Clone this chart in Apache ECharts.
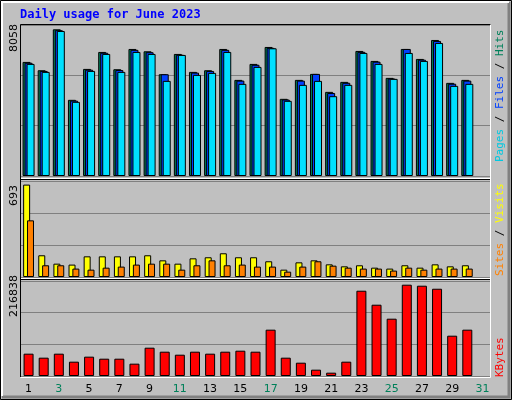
<!DOCTYPE html>
<html>
<head>
<meta charset="utf-8">
<script src="https://cdn.jsdelivr.net/npm/echarts@6/dist/echarts.min.js"></script>
<style>
  html, body { margin: 0; padding: 0; background: #c0c0c0; }
  #chart { width: 512px; height: 400px; }
</style>
</head>
<body>
<div id="chart"></div>
<script>
const days = ['1','2','3','4','5','6','7','8','9','10','11','12','13','14','15','16','17','18','19','20','21','22','23','24','25','26','27','28','29','30','31'];
const weekendDays = ['3','4','10','11','17','18','24','25','31'];

const hits = [6267,5810,8058,4184,5883,6815,5865,6979,6851,5591,6705,5719,5810,6979,5280,6157,7089,4239,5280,5609,4622,5170,6870,6321,5390,6979,6431,7472,5116,5280,null];
const files = [6220,5770,8010,4140,5840,6770,5820,6930,6800,5591,6660,5680,5770,6930,5240,6110,7040,4200,5240,5609,4560,5120,6820,6280,5350,6979,6390,7420,5070,5240,null];
const pages = [6157,5719,7966,4074,5773,6705,5719,6815,6705,5225,6650,5554,5664,6815,5061,5993,7016,4129,5006,5225,4385,5006,6760,6157,5335,6760,6321,7308,4951,5061,null];

const visits = [693,163,100,93,155,155,155,155,163,125,100,140,148,178,148,148,118,55,110,125,95,80,88,70,63,88,70,95,80,88,null];
const sites = [425,88,88,63,55,70,78,93,100,100,55,88,125,88,93,78,78,40,78,118,85,70,63,63,48,70,55,63,63,63,null];

const kbytes = [53000,43500,53000,34000,45900,41100,41100,29300,67200,57700,50600,57700,53000,57700,60100,57700,110000,43500,31600,15000,7900,34000,202500,169300,136100,216838,214400,207200,95700,110000,null];

const MAX_HITS = 8295;
const MAX_VISITS = 720;
const MAX_KB = 225600;

const chart = echarts.init(document.getElementById('chart'));

const grids = [
    { left: 21, right: 22, top: 25, height: 151 },
    { left: 21, right: 22, top: 181, height: 96 },
    { left: 21, right: 22, top: 281, height: 95 }
];

function xAxis(i, showLabels) {
    return {
        type: 'category', gridIndex: i, data: days,
        axisLine: { show: false }, axisTick: { show: false },
        axisLabel: {
            show: showLabels, margin: 8, fontFamily: 'DejaVu Sans', fontSize: 11,
            color: v => weekendDays.includes(v) ? '#00805a' : '#000'
        }
    };
}
function yAxis(i, max) {
    return {
        type: 'value', gridIndex: i, min: 0, max: max, interval: max / 3,
        axisLabel: { show: false },
        splitLine: { lineStyle: { color: '#808080', width: 1 } }
    };
}
const outline = { borderColor: '#000', borderWidth: 1 };

chart.setOption({
    backgroundColor: '#c0c0c0',
    animation: false,
    grid: grids,
    xAxis: [xAxis(0, false), xAxis(1, false), xAxis(2, true)],
    yAxis: [yAxis(0, MAX_HITS), yAxis(1, MAX_VISITS), yAxis(2, MAX_KB)],
    series: [
        { type: 'bar', xAxisIndex: 0, yAxisIndex: 0, data: hits, barWidth: 8, barGap: '-75%',
          itemStyle: Object.assign({ color: '#00805a' }, outline) },
        { type: 'bar', xAxisIndex: 0, yAxisIndex: 0, data: files, barWidth: 8, barGap: '-75%',
          itemStyle: Object.assign({ color: '#0040ff' }, outline) },
        { type: 'bar', xAxisIndex: 0, yAxisIndex: 0, data: pages, barWidth: 8, barGap: '-75%',
          itemStyle: Object.assign({ color: '#00e0ff' }, outline) },
        { type: 'bar', xAxisIndex: 1, yAxisIndex: 1, data: visits, barWidth: 7, barGap: '-45%',
          itemStyle: Object.assign({ color: '#ffff00' }, outline) },
        { type: 'bar', xAxisIndex: 1, yAxisIndex: 1, data: sites, barWidth: 7, barGap: '-45%',
          itemStyle: Object.assign({ color: '#ff8000' }, outline) },
        { type: 'bar', xAxisIndex: 2, yAxisIndex: 2, data: kbytes, barWidth: 10,
          itemStyle: Object.assign({ color: '#ff0000' }, outline) }
    ],
    graphic: [
        // outer frame
        { type: 'rect', shape: { x: 0.5, y: 0.5, width: 511, height: 399 }, silent: true,
          style: { fill: 'none', stroke: '#000', lineWidth: 1 } },
        { type: 'polyline', shape: { points: [[2, 397], [509, 397], [509, 2]] },
          style: { stroke: '#808080', lineWidth: 3, fill: 'none' } },
        { type: 'polyline', shape: { points: [[2, 396], [2, 2], [509, 2]] },
          style: { stroke: '#ffffff', lineWidth: 2, fill: 'none' } },
        // panel frames
        { type: 'polyline', shape: { points: [[20.5, 377], [20.5, 24.5], [491, 24.5]] },
          style: { stroke: '#000', lineWidth: 1, fill: 'none' } },
        { type: 'polyline', shape: { points: [[20.5, 377.5], [490.5, 377.5], [490.5, 24.5]] },
          style: { stroke: '#fff', lineWidth: 1, fill: 'none' } },
        { type: 'line', shape: { x1: 21, y1: 178.5, x2: 490, y2: 178.5 }, style: { stroke: '#fff', lineWidth: 1 } },
        { type: 'line', shape: { x1: 21, y1: 179.5, x2: 490, y2: 179.5 }, style: { stroke: '#000', lineWidth: 1 } },
        { type: 'line', shape: { x1: 21, y1: 278.5, x2: 490, y2: 278.5 }, style: { stroke: '#fff', lineWidth: 1 } },
        { type: 'line', shape: { x1: 21, y1: 279.5, x2: 490, y2: 279.5 }, style: { stroke: '#000', lineWidth: 1 } },
        // title
        { type: 'text', left: 20, top: 9,
          style: { text: 'Daily usage for June 2023', fill: '#0000ff', font: 'bold 12px "DejaVu Sans Mono"' } },
        // max labels
        { type: 'text', x: 9, y: 52, rotation: Math.PI / 2,
          style: { text: '8058', fill: '#000', font: '11px "DejaVu Sans"' } },
        { type: 'text', x: 9, y: 206, rotation: Math.PI / 2,
          style: { text: '693', fill: '#000', font: '11px "DejaVu Sans"' } },
        { type: 'text', x: 9, y: 317, rotation: Math.PI / 2,
          style: { text: '216838', fill: '#000', font: '11px "DejaVu Sans"' } },
        // right legends
        { type: 'text', x: 495, y: 162, rotation: Math.PI / 2,
          style: { text: '{p|Pages} / {f|Files} / {h|Hits}', fill: '#000', font: '11px "DejaVu Sans Mono"',
                   rich: { p: { fill: '#00c8e0' }, f: { fill: '#0040ff' }, h: { fill: '#00805a' } } } },
        { type: 'text', x: 495, y: 276, rotation: Math.PI / 2,
          style: { text: '{s|Sites} / {v|Visits}', fill: '#000', font: '11px "DejaVu Sans Mono"',
                   rich: { s: { fill: '#ff8000' }, v: { fill: '#ffff00' } } } },
        { type: 'text', x: 495, y: 377, rotation: Math.PI / 2,
          style: { text: 'KBytes', fill: '#ff0000', font: '11px "DejaVu Sans Mono"' } }
    ]
});
</script>
</body>
</html>
